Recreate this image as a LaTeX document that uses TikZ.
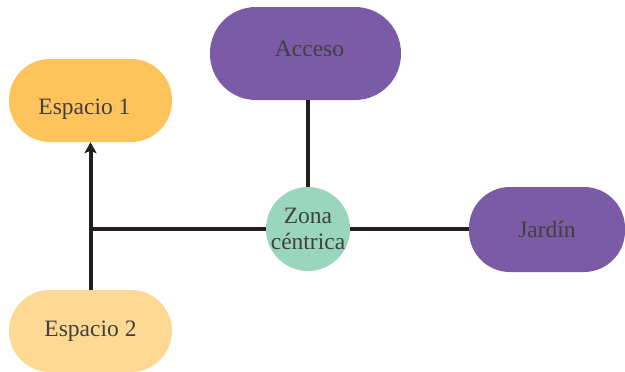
\documentclass[tikz,border=0pt]{standalone}
\usepackage{fontspec}
\setmainfont{Liberation Serif}
\usetikzlibrary{arrows.meta}
\definecolor{lila}{HTML}{7B5AA6}
\definecolor{naranja}{HTML}{FFC35C}
\definecolor{crema}{HTML}{FFD993}
\definecolor{menta}{HTML}{9AD5BD}
\definecolor{tinta}{HTML}{231F20}
\definecolor{texto}{HTML}{404040}
\begin{document}
\begin{tikzpicture}[x=1pt,y=-1pt,>={Stealth[length=11pt,width=12pt,inset=2.5pt]},
  caja/.style={rectangle,rounded corners=41pt,text=texto,inner sep=0pt,
    font=\fontsize{23.5}{26}\selectfont},
  enlace/.style={draw=tinta,line width=4pt}]
      \useasboundingbox (0,0) rectangle (625,372);
      \node [caja,fill=naranja,minimum width=163pt,minimum height=83pt] (Esp1) at (90.5,100.5)
        {\hspace*{-12pt}\raisebox{-9pt}[\height][\depth]{Espacio 1}};
      \node [caja,fill=lila,minimum width=191pt,minimum height=93pt,rounded corners=46pt] (Acceso) at (305.5,53.5)
        {\raisebox{5pt}[\height][\depth]{Acceso}\hspace*{-8pt}};
      \node [caja,circle,fill=menta,minimum size=84pt,inner sep=-12pt,align=center] (Zona) at (308,229)
        {Zona\\céntrica};
      \node [caja,fill=lila,minimum width=156pt,minimum height=85pt] (Jardin) at (547,229.5) {Jardín};
      \node [caja,fill=crema,minimum width=163pt,minimum height=82pt] (Esp2) at (90.5,331) {Espacio 2};
      \coordinate (cruce) at (Esp2.north |- Zona.west);
      %
      \draw [enlace] (Acceso.south -| Zona) -- (Zona.north);
      \draw [enlace] (Zona.west) -- (cruce);
      \draw [enlace,->] (Esp2.north) -- (Esp1.south);
      \draw [enlace] (Zona.east) -- (Zona.east -| Jardin.west);
      %
    \end{tikzpicture}
\end{document}
